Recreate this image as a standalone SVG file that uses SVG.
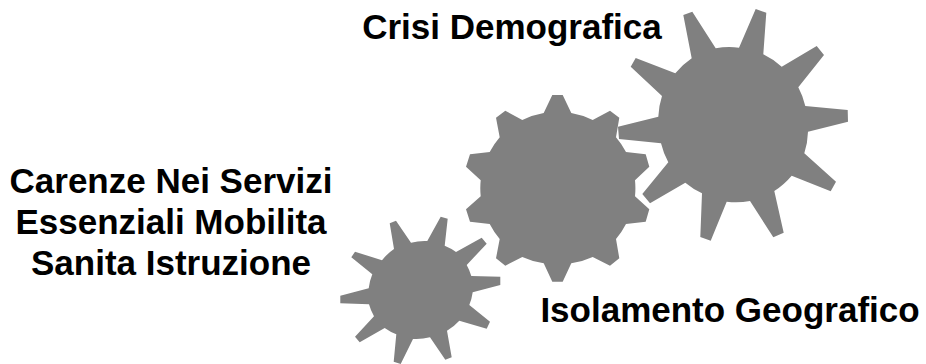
<svg xmlns="http://www.w3.org/2000/svg" width="926" height="364" viewBox="0 0 926 364">
<style>
.gear{fill:#808080;stroke:none}
.label{font-family:"Liberation Sans",Arial,sans-serif;font-weight:700;font-size:35px;fill:#000;text-anchor:middle}
</style>
<rect width="926" height="364" fill="#fff"/>
<g id="gear-large">
<path class="gear" d="M683.3 15L692.3 11.7L715.7 48.3A77 77 0 0 1 739 47.7L755.7 9L766.3 12.7L763.3 54.3A77 77 0 0 1 781.7 66.7L816.7 46L824 55L798.3 87.3A77 77 0 0 1 805.3 106L847.7 110L848 121.7L808 131.7A77 77 0 0 1 804.3 153.3L836 181.7L830.7 191.3L791.7 175.7A77 77 0 0 1 774.3 191L783.7 232.7L773.3 237.3L750 201A77 77 0 0 1 726.7 201.7L710.7 240.7L700.3 237L702 193.3A77 77 0 0 1 685.3 182.7L650 203.3L642.3 194L668.3 162.3A77 77 0 0 1 661 143.3L619 139L618 126.7L658.3 116.7A77 77 0 0 1 662 96L630.7 66.7L635.7 58L675.3 73.3A77 77 0 0 1 691.7 58.3Z"/>
<text class="label" x="512" y="39">Crisi Demografica</text>
</g>
<g id="gear-medium">
<path class="gear" d="M552.3 95L562.7 95L571.3 113A78 78 0 0 1 592.7 120L610 110.7L619.3 117.7L616 137.3A78 78 0 0 1 626 152L645.7 154.3L649.3 166.7L635 180.3A78 78 0 0 1 635 196.3L649.3 209.3L645.7 221.7L626 224A78 78 0 0 1 616 239L619.3 258.3L610 265.7L592.7 257A78 78 0 0 1 571.3 263.3L562.7 281.7L552.3 281.7L543.7 263.3A78 78 0 0 1 522.3 257L505.3 265.7L496 258.3L499.7 239A78 78 0 0 1 489.7 224L470 221.7L466 209.3L480.7 196.3A78 78 0 0 1 480.7 180.3L466 166.7L470 154.3L489.7 152A78 78 0 0 1 499.7 137.3L496 117.7L505.3 110.7L522.3 120A78 78 0 0 1 543.7 113Z"/>
<text class="label" x="730" y="322">Isolamento Geografico</text>
</g>
<g id="gear-small">
<path class="gear" d="M389.7 223.3L396 220.7L411 242.7A52 52 0 0 1 427.3 241L440.7 216.7L447.7 218.7L444.7 245.7A52 52 0 0 1 456 252L481.7 237.7L486.7 243.7L466.7 265A52 52 0 0 1 471.3 276L500.3 276.7L500.3 285L472.7 292.3A52 52 0 0 1 469.3 305L490 321.7L486.7 328.7L459.3 320.7A52 52 0 0 1 447 330.7L451.7 357.3L445.3 359.7L430 337.3A52 52 0 0 1 413 339L400.7 364L393.7 361.7L396.3 334.3A52 52 0 0 1 384.7 328L359.7 342.3L355 336.7L374 316.3A52 52 0 0 1 369 304.3L340.3 303.3L340.3 295.7L368.7 288.3A52 52 0 0 1 372.3 274.3L351.3 257.3L355 251.7L382 260.3A52 52 0 0 1 394 249Z"/>
<text class="label" x="171" y="193">Carenze Nei Servizi</text>
<text class="label" x="171" y="234">Essenziali Mobilita</text>
<text class="label" x="171" y="275">Sanita Istruzione</text>
</g>
<g id="connectors"/>
</svg>
